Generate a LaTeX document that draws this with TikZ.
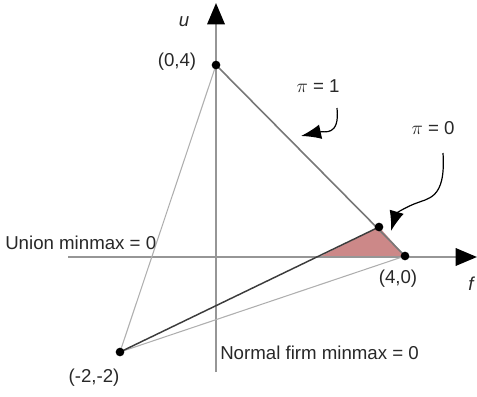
\documentclass[tikz,border=0pt]{standalone}
\usepackage{fontspec}
\setmainfont{Liberation Sans}
\usetikzlibrary{arrows.meta}
\definecolor{axisgray}{RGB}{150,150,150}
\definecolor{edgegray}{RGB}{120,120,120}
\definecolor{lightgray2}{RGB}{175,175,175}
\definecolor{darkline}{RGB}{60,60,60}
\definecolor{pinkfill}{RGB}{204,136,136}
\definecolor{txt}{RGB}{40,40,40}
\tikzset{
  axis/.style={draw=axisgray, line width=1.8pt, -{Triangle[length=16pt,width=13pt,color=black]}},
  dotmark/.style={circle, fill=black, inner sep=0pt, minimum size=6.5pt},
  lbl/.style={text=txt, font=\fontsize{14}{16}\selectfont, inner sep=0pt},
  callout/.style={draw=black, line width=0.9pt, -{Latex[length=15pt,width=11pt]}}
}
\begin{document}
\begin{tikzpicture}[x=0.75pt,y=-0.75pt]
\useasboundingbox (0,0) rectangle (477,396);
% points
\coordinate (P04) at (216,65);
\coordinate (P40) at (405,256);
\coordinate (Pm2) at (120,352);
\coordinate (Pq) at (379,227);
\coordinate (Pint) at (319,257);
% shaded region
\fill[pinkfill] (Pint) -- (Pq) -- (P40) -- cycle;
% axes
\coordinate (ub) at (216,372);
\coordinate (ut) at (216,3);
\coordinate (fl) at (68,257);
\coordinate (fr) at (477,257);
\draw[axis] (ub) -- (ut);
\draw[axis] (fl) -- (fr);
% edges
\draw[edgegray, line width=1.2pt] (P04) -- (P40);
\draw[lightgray2, line width=0.8pt] (P04) -- (Pm2);
\draw[lightgray2, line width=0.8pt] (Pm2) -- (P40);
\draw[darkline, line width=1.1pt] (Pm2) -- (Pq);
% dots
\node[dotmark] (d1) at (P04) {};
\node[dotmark] (d2) at (P40) {};
\node[dotmark] (d3) at (Pm2) {};
\node[dotmark] (d4) at (Pq) {};
% labels
\node[lbl] (lu) at (184,22) {\itshape u};
\node[lbl] (l04) at (177,62) {(0,4)};
\node[lbl] (l40) at (398,279) {(4,0)};
\node[lbl] (lm2) at (94,378) {(-2,-2)};
\node[lbl] (lf) at (471,284) {\itshape f};
\node[lbl, anchor=west] (lunion) at (5,243) {Union minmax = 0};
\node[lbl, anchor=west] (lnormal) at (220,353) {Normal firm minmax = 0};
\node[lbl] (lpi1) at (318,86) {$\pi$ = 1};
\node[lbl] (lpi0) at (433,128) {$\pi$ = 0};
% callout arrows
\coordinate (a1s) at (337,108);
\coordinate (a1e) at (301,136);
\draw[callout] (a1s) .. controls (340,137) and (324,131) .. (a1e);
\coordinate (a2s) at (443,153);
\coordinate (a2m) at (414,204);
\coordinate (a2e) at (391,231);
\draw[callout] (a2s) .. controls (446,200) and (428,198) .. (a2m) .. controls (400,210) and (396,214) .. (a2e);
\end{tikzpicture}
\end{document}
